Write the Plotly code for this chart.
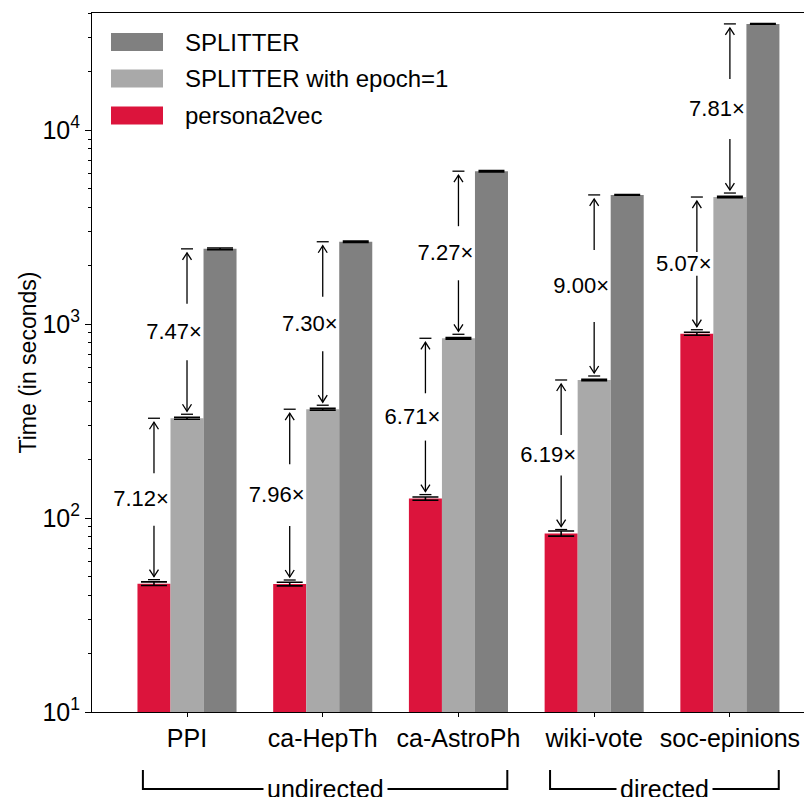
import plotly.graph_objects as go

# ---------------- data ----------------
categories = ["PPI", "ca-HepTh", "ca-AstroPh", "wiki-vote", "soc-epinions"]
persona2vec = [45.9, 45.7, 126, 83.2, 892]
splitter_epoch1 = [327, 364, 845, 515, 4520]
splitter = [2443, 2658, 6143, 4635, 35300]
persona2vec_err = [1.0, 1.0, 2.5, 2.5, 16]
splitter_epoch1_err = [4, 4, 8, 5, 40]
splitter_err = [25, 25, 50, 20, 120]
ratio_epoch1 = ["7.12×", "7.96×", "6.71×", "6.19×", "5.07×"]
ratio_full = ["7.47×", "7.30×", "7.27×", "9.00×", "7.81×"]
y_tickvals = [10, 100, 1000, 10000]
y_ticktext = ["10<sup>1</sup>", "10<sup>2</sup>", "10<sup>3</sup>", "10<sup>4</sup>"]
minor_vals = [m * 10 ** e for e in range(1, 5) for m in range(2, 10)]
groups = [("undirected", 0, 2), ("directed", 3, 4)]

# ---------------- style ----------------
FONT = "Liberation Sans, Arial, Helvetica, sans-serif"
C_DARK = "#808080"
C_LIGHT = "#a9a9a9"
C_RED = "#dc143c"
W, H = 804, 797
L, R, T, B = 92, 0, 13, 85
BW = 0.2433          # bar width in x units
PXDEC = (H - T - B) / 3.604   # pixels per decade
XR = (-0.70, 4.546)
PXU = (W - L - R) / (XR[1] - XR[0])


def dec(px):
    return 10 ** (px / PXDEC)


fig = go.Figure()
xs = list(range(len(categories)))
for name, vals, errs, col in [
    ("persona2vec", persona2vec, persona2vec_err, C_RED),
    ("SPLITTER with epoch=1", splitter_epoch1, splitter_epoch1_err, C_LIGHT),
    ("SPLITTER", splitter, splitter_err, C_DARK),
]:
    fig.add_trace(go.Bar(
        x=xs, y=vals, name=name, marker=dict(color=col, line=dict(width=0)),
        error_y=dict(type="data", array=errs, visible=True, color="black",
                     thickness=1.6, width=13),
        showlegend=False,
    ))

# ---------------- ratio arrows ----------------
lx, ly = [], []
tx, ty, tt = [], [], []
cap = 6 / PXU
arm = 4.5 / PXU
for i in xs:
    for off, lo, hi, lab in [(-BW, persona2vec[i], splitter_epoch1[i], ratio_epoch1[i]),
                             (0.0, splitter_epoch1[i], splitter[i], ratio_full[i])]:
        x = i + off
        lx += [x - cap, x + cap, None]
        ly += [hi, hi, None]
        tip = hi / dec(4)
        tail = tip / dec(51)
        lx += [x, x, None, x - arm, x, x + arm, None]
        ly += [tail, tip, None, tip / dec(7), tip, tip / dec(7), None]
        bc = lo * dec(4)
        lx += [x - cap, x + cap, None]
        ly += [bc, bc, None]
        tip = lo * dec(7)
        tail = tip * dec(51)
        lx += [x, x, None, x - arm, x, x + arm, None]
        ly += [tail, tip, None, tip * dec(7), tip, tip * dec(7), None]
        tx.append(x - 13 / PXU)
        ty.append((lo * hi) ** 0.5)
        tt.append(lab)

fig.add_trace(go.Scatter(x=lx, y=ly, mode="lines", line=dict(color="black", width=1.3),
                         hoverinfo="skip", showlegend=False))
fig.add_trace(go.Scatter(x=tx, y=ty, mode="text", text=tt,
                         textfont=dict(family=FONT, size=22, color="black"),
                         hoverinfo="skip", showlegend=False))

# ---------------- legend (manual) ----------------
shapes = []
annotations = []
leg = [("SPLITTER", C_DARK, 42), ("SPLITTER with epoch=1", C_LIGHT, 78.5), ("persona2vec", C_RED, 115.5)]
ph = H - T - B
pw = W - L - R
for name, col, yc in leg:
    y0 = (H - B - (yc + 9)) / ph
    y1 = (H - B - (yc - 9)) / ph
    shapes.append(dict(type="rect", xref="paper", yref="paper",
                       x0=(111 - L) / pw, x1=(163 - L) / pw, y0=y0, y1=y1,
                       fillcolor=col, line=dict(width=0)))
    annotations.append(dict(xref="paper", yref="paper", x=(183 - L) / pw,
                            y=(H - B - yc) / ph, text=name, showarrow=False,
                            xanchor="left", yanchor="middle",
                            font=dict(family=FONT, size=24, color="black")))

# ---------------- group brackets ----------------
yb = (H - B - 789) / ph
yt = (H - B - 770) / ph
for name, a, b in groups:
    x0 = a - 0.325
    x1 = b + 0.36
    shapes.append(dict(type="path", xref="x", yref="paper",
                       path=f"M {x0} {yt} L {x0} {yb} L {x1} {yb} L {x1} {yt}",
                       line=dict(color="black", width=2)))
    annotations.append(dict(xref="x", yref="paper", x=(x0 + x1) / 2, y=yb,
                            text=name, showarrow=False, bgcolor="white",
                            xanchor="center", yanchor="middle", borderpad=3,
                            font=dict(family=FONT, size=25, color="black")))

annotations.append(dict(xref="paper", yref="paper", x=(27 - L) / pw, y=0.5,
                        text="Time (in seconds)", textangle=-90, showarrow=False,
                        xanchor="center", yanchor="middle",
                        font=dict(family=FONT, size=23, color="black")))

fig.update_layout(
    width=W, height=H,
    margin=dict(l=L, r=R, t=T, b=B),
    paper_bgcolor="white", plot_bgcolor="white",
    barmode="group", bargap=0.27, bargroupgap=0,
    shapes=shapes, annotations=annotations,
    font=dict(family=FONT, color="black"),
    xaxis=dict(range=list(XR), tickvals=xs, ticktext=categories,
               showline=True, linecolor="black", linewidth=1, mirror=True,
               ticks="outside", ticklen=4, tickcolor="black",
               showgrid=False, zeroline=False,
               tickfont=dict(family=FONT, size=25, color="black")),
    yaxis=dict(type="log", range=[1, 4.604], tickvals=y_tickvals, ticktext=y_ticktext,
               showline=True, linecolor="black", linewidth=1, mirror=False,
               ticks="outside", ticklen=6, tickcolor="black",
               minor=dict(tickvals=minor_vals, ticks="outside", ticklen=3, tickcolor="black"),
               showgrid=False, zeroline=False,
               tickfont=dict(family=FONT, size=25, color="black")),
)

fig.write_html("out.html", config={"displayModeBar": False},
               post_script="document.body.style.margin='0';document.body.style.padding='0';document.body.style.overflow='hidden';")
